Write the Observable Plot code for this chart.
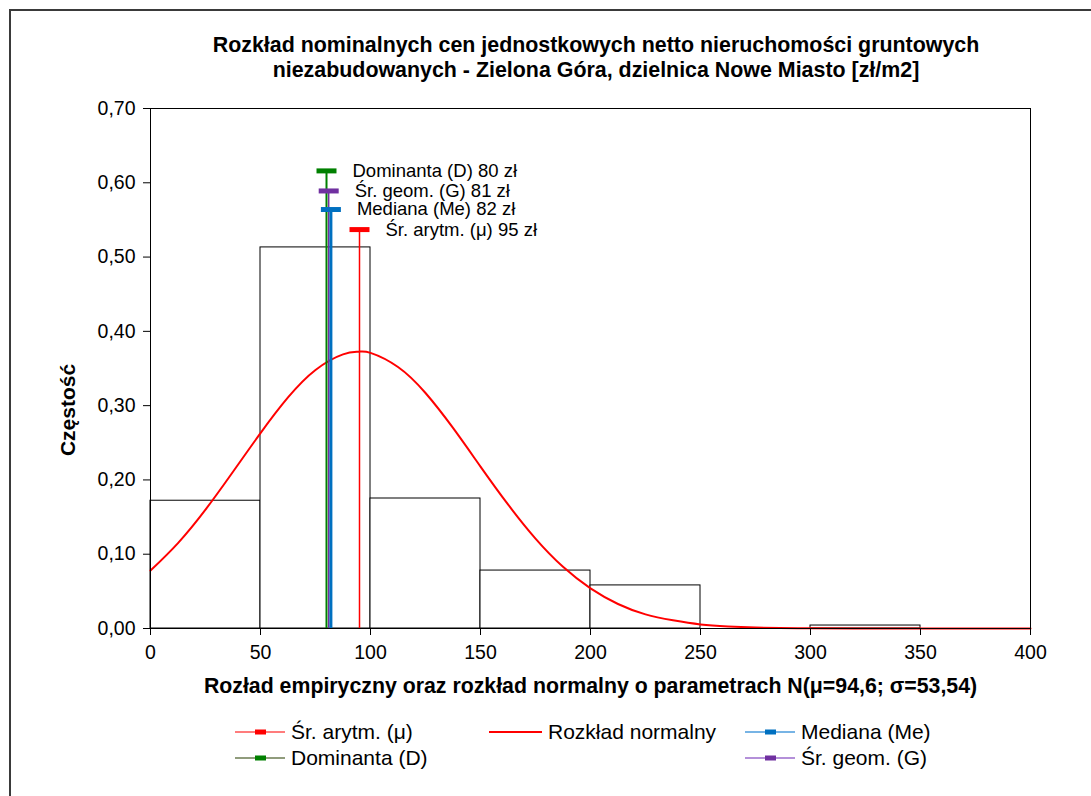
<!DOCTYPE html>
<html><head><meta charset="utf-8">
<script src="https://cdn.jsdelivr.net/npm/d3@7"></script>
<script src="https://cdn.jsdelivr.net/npm/@observablehq/plot@0.6"></script>
<style>
html,body{margin:0;padding:0;background:#fff;width:1091px;height:796px;overflow:hidden;font-family:"Liberation Sans",Arial,sans-serif;}
#frame{position:absolute;left:9px;top:9px;width:1100px;height:800px;border-left:2px solid #3a3a3a;border-top:2px solid #3a3a3a;}
#title{position:absolute;left:100px;width:992px;top:33px;text-align:center;font-weight:bold;font-size:21.4px;line-height:25px;color:#000;}
#chart{position:absolute;left:0;top:90px;}
#ytitle{position:absolute;left:68px;top:410px;transform:translate(-50%,-50%) rotate(-90deg);font-weight:bold;font-size:21px;white-space:nowrap;color:#000;line-height:24px;}
#legend{position:absolute;left:0;top:0;width:1091px;height:796px;pointer-events:none;}
.li{position:absolute;font-size:21px;line-height:24px;color:#000;white-space:nowrap;display:flex;align-items:center;}
.li svg{margin-right:6px;}
</style></head>
<body>
<div id="frame"></div>
<div id="title">Rozkład nominalnych cen jednostkowych netto nieruchomości gruntowych<br>niezabudowanych - Zielona Góra, dzielnica Nowe Miasto [zł/m2]</div>
<div id="chart"></div>
<div id="ytitle"></div>
<div id="legend"></div>
<script>
// Histogram bins and frequencies
const binStart = [0, 50, 100, 150, 200, 250, 300, 350];
const binEnd   = [50, 100, 150, 200, 250, 300, 350, 400];
const binFreq  = [0.172, 0.513, 0.175, 0.078, 0.058, 0, 0.004, 0];

// Normal distribution curve
const curveX = [0, 12.5, 25, 37.5, 50, 62.5, 75, 87.5, 94.6, 100, 112.5, 125, 137.5, 150, 162.5, 175, 187.5, 200, 212.5, 225, 237.5, 250, 262.5, 275, 300, 325, 350, 375, 400];
const curveY = [0.078, 0.115, 0.160, 0.211, 0.263, 0.311, 0.348, 0.369, 0.3726, 0.371, 0.352, 0.317, 0.270, 0.218, 0.167, 0.121, 0.083, 0.054, 0.033, 0.019, 0.011, 0.0055, 0.0027, 0.0013, 0.0002, 0, 0, 0, 0];

// Statistics
const statNames  = ["Dominanta (D)", "Śr. geom. (G)", "Mediana (Me)", "Śr. arytm. (μ)"];
const statValues = [80, 81, 82, 95];
const statTops   = [0.616, 0.589, 0.564, 0.537];
const statColors = ["#008000", "#7030A0", "#0070C0", "#FF0000"];
const statWidths = [2, 1.5, 3, 1.5];

// Axis ticks
const xTicks = [0, 50, 100, 150, 200, 250, 300, 350, 400];
const yTicks = [0, 0.1, 0.2, 0.3, 0.4, 0.5, 0.6, 0.7];

const xTitle = "Rozład empiryczny oraz rozkład normalny o parametrach N(μ=94,6; σ=53,54)";
const yTitle = "Częstość";

// Legend
const legendNames  = ["Śr. arytm. (μ)", "Rozkład normalny", "Mediana (Me)", "Dominanta (D)", "Śr. geom. (G)"];
const legendLine   = ["#FF5050", "#FF0000", "#4A9BDC", "#6B7B50", "#9B6BCC"];
const legendMarker = ["#FF0000", null, "#0070C0", "#008000", "#7030A0"];
const legendLeft   = [235, 489, 745, 235, 745];
const legendTop    = [732, 732, 732, 758, 758];

const bins = binStart.map((s, i) => ({x1: s, x2: binEnd[i], y: binFreq[i]})).filter(d => d.y > 0);
const curve = curveX.map((x, i) => ({x, y: curveY[i]}));
const stats = statNames.map((n, i) => ({name: n, v: statValues[i], top: statTops[i], color: statColors[i], w: statWidths[i]}));

const hbar = {draw(ctx) { ctx.rect(-10, -2.5, 20, 5); }};
const fmt = d => d.toFixed(2).replace(".", ",");

const plot = Plot.plot({
  width: 1091,
  height: 620,
  marginLeft: 150,
  marginRight: 61,
  marginTop: 18,
  marginBottom: 82,
  style: {fontFamily: "'Liberation Sans', Arial, sans-serif", fontSize: "19.5px", color: "#000", background: "transparent", overflow: "visible"},
  x: {domain: [0, 400], label: null},
  y: {domain: [0, 0.7], label: null},
  marks: [
    Plot.rect(bins, {x1: "x1", x2: "x2", y1: 0, y2: "y", fill: "white", stroke: "#000", strokeWidth: 1}),
    Plot.line(curve, {x: "x", y: "y", stroke: "#FF0000", strokeWidth: 2, curve: "natural"}),
    Plot.ruleX(stats, {x: "v", y1: 0, y2: "top", stroke: "color", strokeWidth: "w"}),
    Plot.dot(stats, {x: "v", y: "top", symbol: hbar, fill: "color", stroke: "none", r: 5}),
    Plot.text(stats, {x: "v", y: "top", text: d => `${d.name} ${d.v} zł`, textAnchor: "start", dx: 26, fontSize: 18.5, fill: "#000"}),
    Plot.frame({stroke: "#000", strokeWidth: 1}),
    Plot.axisX({ticks: xTicks, tickSize: 7, tickPadding: 10, tickFormat: d => String(d), label: null, fontSize: 19.5}),
    Plot.axisY({ticks: yTicks, tickSize: 7, tickPadding: 8, tickFormat: fmt, label: null, fontSize: 19.5}),
    Plot.text([xTitle], {frameAnchor: "bottom", dy: 64, fontWeight: "bold", fontSize: 21.3, fill: "#000"})
  ]
});
document.getElementById("chart").appendChild(plot);
document.getElementById("ytitle").textContent = yTitle;

const leg = document.getElementById("legend");
legendNames.forEach((n, i) => {
  const div = document.createElement("div");
  div.className = "li";
  div.style.left = legendLeft[i] + "px";
  div.style.top = (legendTop[i] - 12) + "px";
  const sw = legendMarker[i]
    ? `<svg width="50" height="10"><line x1="0" x2="50" y1="5" y2="5" stroke="${legendLine[i]}" stroke-width="1.5"/><rect x="20" y="2.5" width="11" height="5" fill="${legendMarker[i]}"/></svg>`
    : `<svg width="53" height="10"><line x1="0" x2="53" y1="5" y2="5" stroke="${legendLine[i]}" stroke-width="2"/></svg>`;
  div.innerHTML = sw + `<span>${n}</span>`;
  leg.appendChild(div);
});
</script>
</body></html>
